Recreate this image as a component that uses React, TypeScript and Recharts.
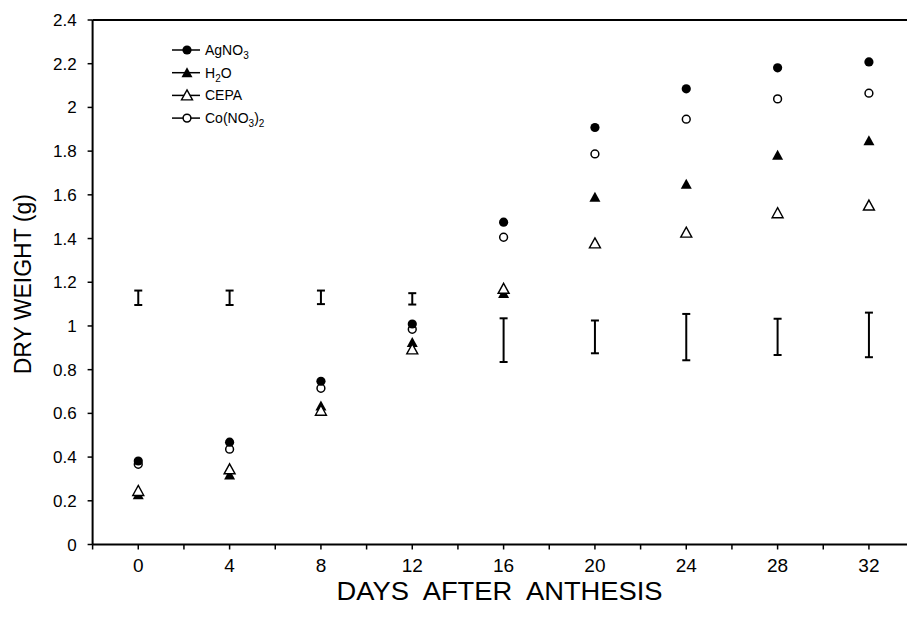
import React from 'react';
import { ScatterChart, Scatter, XAxis, YAxis, ErrorBar, ReferenceLine } from 'recharts';

const days = [0, 4, 8, 12, 16, 20, 24, 28, 32];
const agno3 = [0.382, 0.468, 0.747, 1.009, 1.475, 1.908, 2.085, 2.181, 2.208];
const h2o = [0.228, 0.318, 0.634, 0.924, 1.148, 1.589, 1.648, 1.781, 1.847];
const cepa = [0.245, 0.344, 0.612, 0.893, 1.17, 1.378, 1.427, 1.516, 1.551];
const cono3 = [0.367, 0.436, 0.715, 0.985, 1.406, 1.787, 1.946, 2.039, 2.065];
const errMean = [1.129, 1.129, 1.131, 1.124, 0.935, 0.95, 0.949, 0.95, 0.959];
const errHalf = [0.033, 0.033, 0.031, 0.026, 0.1, 0.075, 0.106, 0.083, 0.102];

const xTicks = [-2, 0, 2, 4, 6, 8, 10, 12, 14, 16, 18, 20, 22, 24, 26, 28, 30, 32, 34];
const xLabelled = [0, 4, 8, 12, 16, 20, 24, 28, 32];
const yTicks = [0, 0.2, 0.4, 0.6, 0.8, 1, 1.2, 1.4, 1.6, 1.8, 2, 2.2, 2.4];

const FONT = '"Liberation Sans", Arial, sans-serif';

const mk = (vals: number[]) => days.map((d, i) => ({ x: d, y: vals[i] }));
const errData = days.map((d, i) => ({ x: d, y: errMean[i], err: errHalf[i] }));

const FilledCircle = (p: any) => <circle cx={p.cx} cy={p.cy} r={4.6} fill="#000" />;
const OpenCircle = (p: any) => (
  <circle cx={p.cx} cy={p.cy} r={3.9} fill="#fff" stroke="#000" strokeWidth={1.5} />
);
const triPath = (cx: number, cy: number) =>
  `M${cx},${cy - 5.5} L${cx + 5.5},${cy + 4.5} L${cx - 5.5},${cy + 4.5} Z`;
const FilledTri = (p: any) => <path d={triPath(p.cx, p.cy)} fill="#000" />;
const OpenTri = (p: any) => (
  <path d={triPath(p.cx, p.cy)} fill="#fff" stroke="#000" strokeWidth={1.4} strokeLinejoin="miter" />
);
const Nothing = () => <g />;

const legendItems = [
  { key: 'ag', shape: FilledCircle, parts: [['AgNO', false], ['3', true]] },
  { key: 'h2o', shape: FilledTri, parts: [['H', false], ['2', true], ['O', false]] },
  { key: 'cepa', shape: OpenTri, parts: [['CEPA', false]] },
  { key: 'co', shape: OpenCircle, parts: [['Co(NO', false], ['3', true], [')', false], ['2', true]] },
];

const LegendBox = () => (
  <g>
    {legendItems.map((it, i) => {
      const y = 50 + i * 22.7;
      const Shape = it.shape as any;
      let sub = false;
      return (
        <g key={it.key}>
          <line x1={172} x2={200} y1={y} y2={y} stroke="#000" strokeWidth={1.5} />
          <Shape cx={187} cy={y} />
          <text x={205} y={y + 5} fontFamily={FONT} fontSize={14} fill="#000">
            {(it.parts as any[]).map(([t, s], j) => {
              let dy = 0;
              if (s && !sub) dy = 4;
              if (!s && sub) dy = -4;
              sub = s;
              return (
                <tspan key={j} dy={dy} fontSize={s ? 10 : 14}>
                  {t}
                </tspan>
              );
            })}
          </text>
        </g>
      );
    })}
  </g>
);

const YTitle = (props: any) => {
  const vb = props.viewBox;
  const cy = vb.y + vb.height / 2 + 2;
  return (
    <text
      x={23}
      y={cy}
      transform={`rotate(-90, 23, ${cy})`}
      textAnchor="middle"
      dominantBaseline="central"
      fontFamily={FONT}
      fontSize={23}
      fill="#000"
    >
      DRY WEIGHT (g)
    </text>
  );
};

const XTitle = (props: any) => {
  const vb = props.viewBox;
  return (
    <text
      x={vb.x + vb.width / 2 - 4}
      y={vb.y + 55}
      textAnchor="middle"
      fontFamily={FONT}
      fontSize={25}
      fill="#000"
      textLength={326}
      lengthAdjust="spacingAndGlyphs"
      style={{ whiteSpace: 'pre' }}
    >
      {'DAYS  AFTER  ANTHESIS'}
    </text>
  );
};

export default function App() {
  return (
    <div style={{ position: 'fixed', left: 0, top: 0, width: 907, height: 621, overflow: 'hidden', background: '#fff' }}>
      <ScatterChart
        width={920}
        height={621}
        margin={{ top: 20, right: 5.4, bottom: 36.5, left: 0 }}
        style={{ fontFamily: FONT }}
      >
        <XAxis
          type="number"
          dataKey="x"
          domain={[-2, 34]}
          ticks={xTicks}
          interval={0}
          allowDataOverflow
          height={40}
          axisLine={{ stroke: '#000', strokeWidth: 2 }}
          tickLine={{ stroke: '#000', strokeWidth: 1.5 }}
          tickSize={5}
          tickMargin={9}
          tick={{ fill: '#000', fontSize: 19, fontFamily: FONT }}
          tickFormatter={(v: number) => (xLabelled.includes(v) ? String(v) : '')}
          label={<XTitle />}
        />
        <YAxis
          type="number"
          dataKey="y"
          domain={[0, 2.4]}
          ticks={yTicks}
          interval={0}
          width={92.6}
          axisLine={{ stroke: '#000', strokeWidth: 2 }}
          tickLine={{ stroke: '#000', strokeWidth: 1.5 }}
          tickSize={5}
          tickMargin={11}
          tick={{ fill: '#000', fontSize: 17, fontFamily: FONT }}
          tickFormatter={(v: number) => String(v)}
          label={<YTitle />}
        />
        <ReferenceLine y={2.4} stroke="#000" strokeWidth={2} />
        <Scatter name="err" data={errData} shape={Nothing} isAnimationActive={false} legendType="none">
          <ErrorBar dataKey="err" direction="y" width={4} strokeWidth={2} stroke="#000" />
        </Scatter>
        <Scatter name="H2O" data={mk(h2o)} shape={FilledTri} isAnimationActive={false} />
        <Scatter name="CEPA" data={mk(cepa)} shape={OpenTri} isAnimationActive={false} />
        <Scatter name="Co(NO3)2" data={mk(cono3)} shape={OpenCircle} isAnimationActive={false} />
        <Scatter name="AgNO3" data={mk(agno3)} shape={FilledCircle} isAnimationActive={false} />
        <LegendBox />
      </ScatterChart>
    </div>
  );
}
